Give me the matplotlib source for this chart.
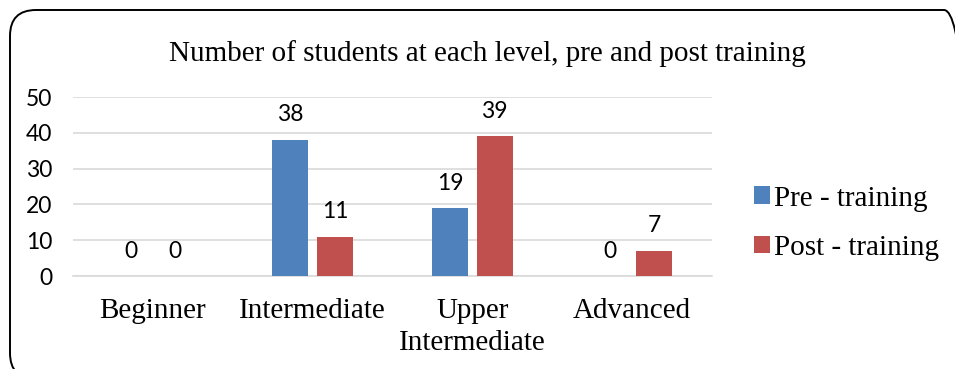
import numpy as np
import matplotlib
matplotlib.use("Agg")
import matplotlib.pyplot as plt
from matplotlib.patches import FancyBboxPatch

categories = ["Beginner", "Intermediate", "Upper\nIntermediate", "Advanced"]
pre_training = [0, 38, 19, 0]
post_training = [0, 11, 39, 7]
series_names = ["Pre - training", "Post - training"]
title = "Number of students at each level, pre and post training"

serif = "Liberation Serif"
sans = "Lato"

fig = plt.figure(figsize=(9.55, 3.69), dpi=100)
ax = fig.add_axes([0.0764, 0.252, 0.669, 0.485])

x = np.arange(len(categories))
w = 0.225
off = 0.14
b1 = ax.bar(x - off, pre_training, w, color="#4F81BD", label=series_names[0], zorder=3)
b2 = ax.bar(x + off, post_training, w, color="#C0504D", label=series_names[1], zorder=3)

# data labels above each bar
for bars in (b1, b2):
    for rect in bars:
        h = rect.get_height()
        ax.annotate(f"{h:g}", (rect.get_x() + rect.get_width() / 2, h),
                    xytext=(0, 18), textcoords="offset points",
                    ha="center", va="center", fontsize=16.5, family=sans)

ax.set_xlim(-0.5, len(categories) - 0.5)
ax.set_ylim(0, 50)
ax.set_yticks(range(0, 51, 10))
ax.yaxis.grid(True, color="#D9D9D9", linewidth=1.2, zorder=0)
ax.set_axisbelow(True)
for s in ("top", "right", "left"):
    ax.spines[s].set_visible(False)
ax.spines["bottom"].set_color("#D9D9D9")
ax.spines["bottom"].set_linewidth(1.2)
ax.tick_params(length=0)
ax.tick_params(axis="y", labelsize=16.5, pad=15)
for lab in ax.get_yticklabels():
    lab.set_family(sans)
ax.set_xticks(x)
ax.set_xticklabels(categories, fontsize=21, family=serif, linespacing=1.3)
ax.tick_params(axis="x", pad=16)

fig.text(0.51, 0.856, title, ha="center", va="center", fontsize=21, family=serif)

fig.legend(handles=[b1, b2], loc="center left", bbox_to_anchor=(0.774, 0.395),
           frameon=False, prop={"family": serif, "size": 21},
           handlelength=0.55, handleheight=0.55, handletextpad=0.15, labelspacing=0.8,
           borderpad=0)

frame = FancyBboxPatch((10, -10), 960, 369, boxstyle="round,pad=0,rounding_size=26",
                       transform=None, fill=False, edgecolor="black", linewidth=1.4)
fig.patches.append(frame)

fig.savefig("out.png", dpi=100)
